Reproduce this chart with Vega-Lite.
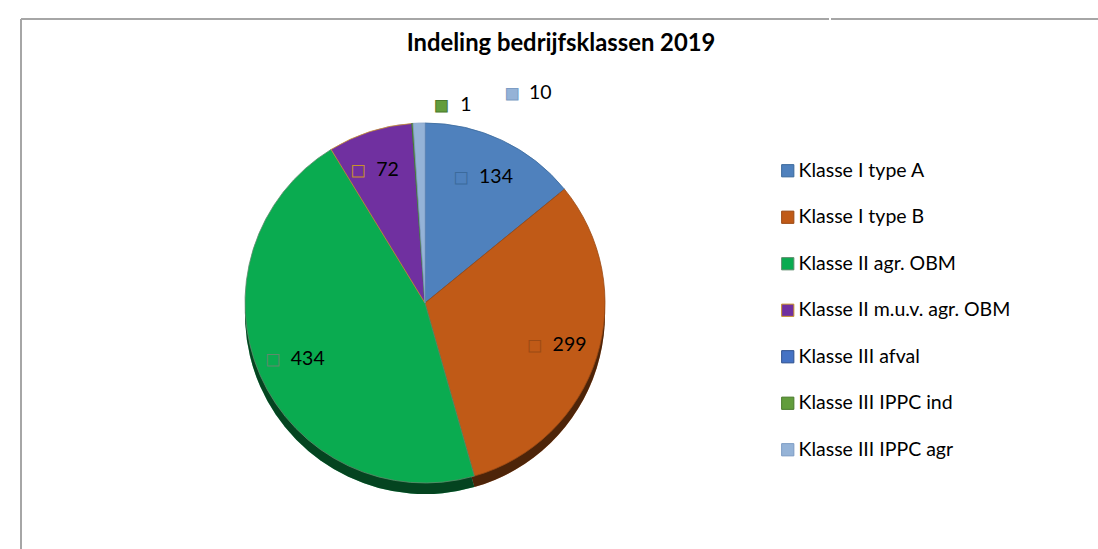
{
  "$schema": "https://vega.github.io/schema/vega-lite/v6.json",
  "autosize": {"type": "pad"},
  "padding": {"left": 20, "top": 18, "right": 0, "bottom": 0},
  "background": "white",
  "config": {"font": "Lato"},
  "title": {"text": "Indeling bedrijfsklassen 2019", "font": "Lato", "fontSize": 23.8, "fontWeight": "bold", "color": "#000000", "anchor": "middle", "offset": -38},
  "datasets": {
    "klassen": [
      {"nr": 1, "klasse": "Klasse I type A", "aantal": 134},
      {"nr": 2, "klasse": "Klasse I type B", "aantal": 299},
      {"nr": 3, "klasse": "Klasse II agr. OBM", "aantal": 434},
      {"nr": 4, "klasse": "Klasse II m.u.v. agr. OBM", "aantal": 72},
      {"nr": 5, "klasse": "Klasse III afval", "aantal": 0},
      {"nr": 6, "klasse": "Klasse III IPPC ind", "aantal": 1},
      {"nr": 7, "klasse": "Klasse III IPPC agr", "aantal": 10}
    ]
  },
  "spacing": 0,
  "hconcat": [
    {
      "width": 808,
      "height": 568,
      "view": {"stroke": "#a6a6a6", "strokeWidth": 2, "strokeDash": [808, 1376, 568, 0]},
      "data": {"name": "klassen"},
      "encoding": {
        "theta": {"field": "aantal", "type": "quantitative", "stack": true},
        "order": {"field": "nr", "type": "quantitative"},
        "color": {
          "field": "klasse",
          "type": "nominal",
          "scale": {
            "domain": ["Klasse I type A", "Klasse I type B", "Klasse II agr. OBM", "Klasse II m.u.v. agr. OBM", "Klasse III afval", "Klasse III IPPC ind", "Klasse III IPPC agr"],
            "range": ["#4f81bd", "#c05a17", "#0aab50", "#7030a0", "#4472c4", "#629d3c", "#95b3d7"]
          },
          "legend": {
            "orient": "none", "legendX": 757, "legendY": 142, "title": null,
            "symbolType": "square", "symbolSize": 150, "symbolStrokeWidth": 1, "symbolOpacity": 1,
            "labelFont": "Lato", "labelFontSize": 19.5, "labelColor": "#000000", "labelOffset": 1,
            "rowPadding": 25.5, "padding": 0, "labelLimit": 400
          }
        },
        "stroke": {
          "field": "klasse",
          "type": "nominal",
          "scale": {
            "domain": ["Klasse I type A", "Klasse I type B", "Klasse II agr. OBM", "Klasse II m.u.v. agr. OBM", "Klasse III afval", "Klasse III IPPC ind", "Klasse III IPPC agr"],
            "range": ["#3b6a9c", "#9c4a14", "#5f8a6c", "#c8922a", "#2f528f", "#4a7a2c", "#7d9cc4"]
          },
          "legend": null
        }
      },
      "layer": [
        {"mark": {"type": "arc", "outerRadius": 180, "yOffset": 11}, "encoding": {"stroke": {"value": null}}},
        {"mark": {"type": "arc", "outerRadius": 180, "yOffset": 11}, "encoding": {"color": {"value": "#000000"}, "opacity": {"value": 0.6}, "stroke": {"value": null}}},
        {"mark": {"type": "arc", "outerRadius": 180, "strokeWidth": 0.8}},
        {
          "mark": {"type": "text", "radius": 140, "font": "DejaVu Sans", "fontSize": 15, "dx": -24, "align": "center", "baseline": "middle", "strokeWidth": 1},
          "encoding": {"text": {"condition": {"test": "datum.aantal >= 50", "value": "■"}, "value": ""}}
        },
        {
          "mark": {"type": "text", "radius": 140, "font": "Lato", "fontSize": 19.5, "dx": -6, "align": "left", "baseline": "middle"},
          "encoding": {"text": {"condition": {"test": "datum.aantal >= 50", "field": "aantal"}, "value": ""}, "color": {"value": "#000000"}, "stroke": {"value": null}}
        },
        {
          "mark": {"type": "text", "radius": 198, "font": "DejaVu Sans", "fontSize": 15, "dx": 30, "align": "center", "baseline": "middle", "strokeWidth": 1},
          "encoding": {"text": {"condition": {"test": "datum.nr == 6", "value": "■"}, "value": ""}}
        },
        {
          "mark": {"type": "text", "radius": 198, "font": "Lato", "fontSize": 19.5, "dx": 49, "align": "left", "baseline": "middle"},
          "encoding": {"text": {"condition": {"test": "datum.nr == 6", "field": "aantal"}, "value": ""}, "color": {"value": "#000000"}, "stroke": {"value": null}}
        },
        {
          "mark": {"type": "text", "radius": 210, "font": "DejaVu Sans", "fontSize": 15, "dx": 94, "align": "center", "baseline": "middle", "strokeWidth": 1},
          "encoding": {"text": {"condition": {"test": "datum.nr == 7", "value": "■"}, "value": ""}}
        },
        {
          "mark": {"type": "text", "radius": 210, "font": "Lato", "fontSize": 19.5, "dx": 111, "align": "left", "baseline": "middle"},
          "encoding": {"text": {"condition": {"test": "datum.nr == 7", "field": "aantal"}, "value": ""}, "color": {"value": "#000000"}, "stroke": {"value": null}}
        }
      ]
    },
    {
      "width": 270,
      "height": 568,
      "view": {"stroke": "#a6a6a6", "strokeWidth": 2, "strokeDash": [270, 3000]},
      "data": {"values": [{}]},
      "mark": {"type": "text"},
      "encoding": {"text": {"value": ""}}
    }
  ]
}
